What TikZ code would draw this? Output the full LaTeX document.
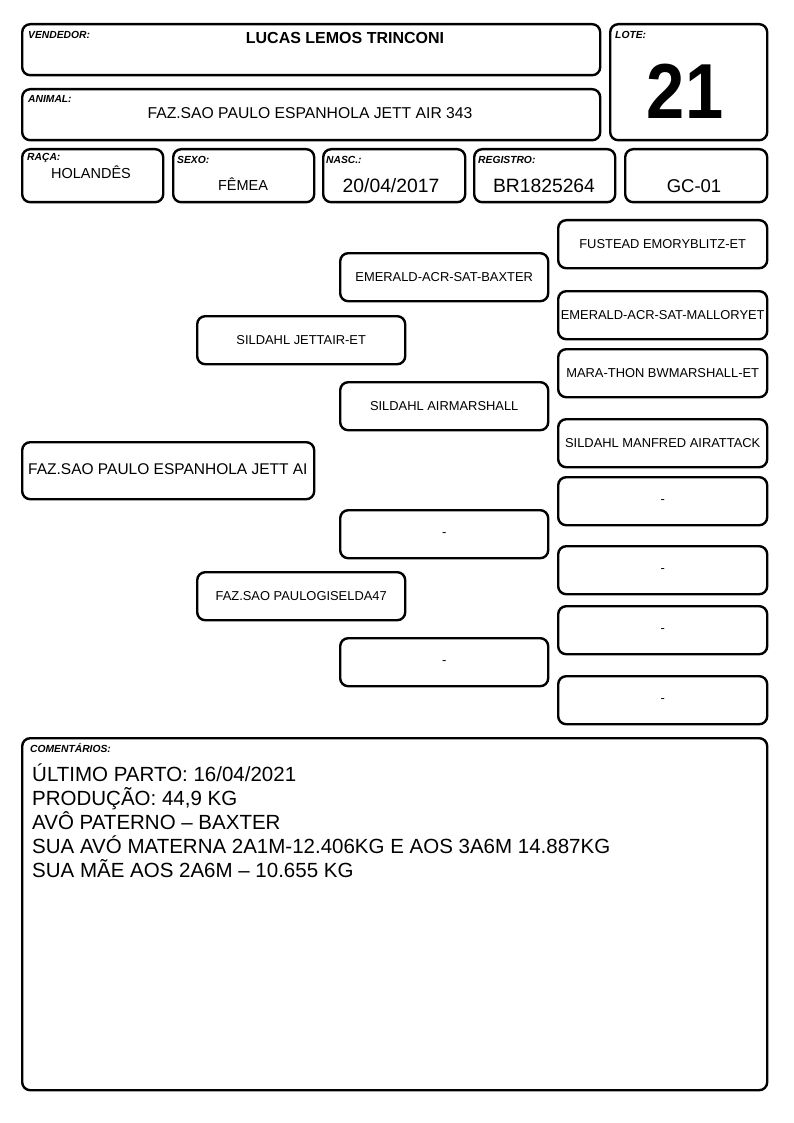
\documentclass[tikz,border=0pt]{standalone}
\usepackage{fontspec}
\setmainfont{Liberation Sans}
\newfontfamily\nf[FakeStretch=0.88]{Liberation Sans}
\begin{document}
\begin{tikzpicture}[x=1pt,y=-1pt,
  box/.style={draw,line width=2.4pt,rounded corners=8pt,anchor=north west,inner sep=0pt,fill=white},
  lbl/.style={anchor=west,inner sep=0pt,font=\fontsize{10.3}{11}\selectfont\bfseries\itshape},
  val/.style={inner sep=0pt,font=\fontsize{17}{18}\selectfont},
  ped/.style={box,font=\fontsize{12.9}{14}\selectfont,minimum width=208pt,minimum height=48pt,anchor=north west},
  comline/.style={anchor=base west,inner sep=0pt,font=\fontsize{20.5}{24}\selectfont}]
\useasboundingbox[fill=white] (0,0) rectangle (794,1123);
% header boxes
\node[box,minimum width=578pt,minimum height=51pt] (vend) at (21,23) {};
\node[box,minimum width=578pt,minimum height=51pt] (anim) at (21,88) {};
\node[box,minimum width=157pt,minimum height=116pt] (lote) at (609,23) {};
\node[box,minimum width=141pt,minimum height=53pt] (raca) at (21,148) {};
\node[box,minimum width=141pt,minimum height=53pt] (sexo) at (172,148) {};
\node[box,minimum width=142pt,minimum height=53pt] (nasc) at (322,148) {};
\node[box,minimum width=141pt,minimum height=53pt] (reg) at (473,148) {};
\node[box,minimum width=142pt,minimum height=53pt] (gc) at (624,148) {};
\node[lbl] (vendl) at (28,35) {VENDEDOR:};
\node[val,font=\fontsize{16}{18}\selectfont\bfseries] (vendv) at (345,38) {LUCAS LEMOS TRINCONI};
\node[lbl] (animl) at (28,99) {ANIMAL:};
\node[val,font=\fontsize{15.7}{18}\selectfont] (animv) at (310,113) {FAZ.SAO PAULO ESPANHOLA JETT AIR 343};
\node[lbl] (lotel) at (615,35) {LOTE:};
\node[inner sep=0pt,font=\nf\fontsize{78}{80}\selectfont\bfseries] (lotev) at (685,91) {21};
\node[lbl] (racal) at (27,158) {RAÇA:};
\node[val,font=\fontsize{14.5}{18}\selectfont] (racav) at (91,172) {HOLANDÊS};
\node[lbl] (sexol) at (177,160) {SEXO:};
\node[val,font=\fontsize{14.5}{18}\selectfont] (sexov) at (243,184) {FÊMEA};
\node[lbl] (nascl) at (326,160) {NASC.:};
\node[val,font=\fontsize{19.3}{20}\selectfont] (nascv) at (391,186) {20/04/2017};
\node[lbl] (regl) at (478,160) {REGISTRO:};
\node[val,font=\fontsize{19.3}{20}\selectfont] (regv) at (544,186) {BR1825264};
\node[val,font=\fontsize{18.5}{20}\selectfont] (gcv) at (694,186) {GC-01};
% pedigree
\node[ped,minimum width=292pt,minimum height=57pt] (p0) at (21,441) {};
\node[anchor=west,inner sep=0pt,font=\fontsize{15.5}{18}\selectfont] (p0t) at (28,469) {FAZ.SAO PAULO ESPANHOLA JETT AI};
\node[ped] (p1) at (196,315) {SILDAHL JETTAIR-ET};
\node[ped] (p2) at (196,571) {FAZ.SAO PAULOGISELDA47};
\node[ped] (p11) at (339,252) {EMERALD-ACR-SAT-BAXTER};
\node[ped] (p12) at (339,381) {SILDAHL AIRMARSHALL};
\node[ped] (p21) at (339,509) {-};
\node[ped] (p22) at (339,637) {-};
\node[ped,minimum width=209pt] (p111) at (557,219) {FUSTEAD EMORYBLITZ-ET};
\node[ped,minimum width=209pt] (p112) at (557,290) {EMERALD-ACR-SAT-MALLORYET};
\node[ped,minimum width=209pt] (p121) at (557,348) {MARA-THON BWMARSHALL-ET};
\node[ped,minimum width=209pt] (p122) at (557,418) {SILDAHL MANFRED AIRATTACK};
\node[ped,minimum width=209pt] (p211) at (557,476) {-};
\node[ped,minimum width=209pt] (p212) at (557,545) {-};
\node[ped,minimum width=209pt] (p221) at (557,605) {-};
\node[ped,minimum width=209pt] (p222) at (557,675) {-};
% comments
\node[box,minimum width=745pt,minimum height=352pt] (com) at (21,737) {};
\node[lbl] (coml) at (30,748) {COMENTÁRIOS:};
\node[comline] (c1) at (32,781) {ÚLTIMO PARTO: 16/04/2021};
\node[comline] (c2) at (32,805) {PRODUÇÃO: 44,9 KG};
\node[comline] (c3) at (32,829) {AVÔ PATERNO – BAXTER};
\node[comline] (c4) at (32,853) {SUA AVÓ MATERNA 2A1M-12.406KG E AOS 3A6M 14.887KG};
\node[comline] (c5) at (32,877) {SUA MÃE AOS 2A6M – 10.655 KG};
\end{tikzpicture}
\end{document}
